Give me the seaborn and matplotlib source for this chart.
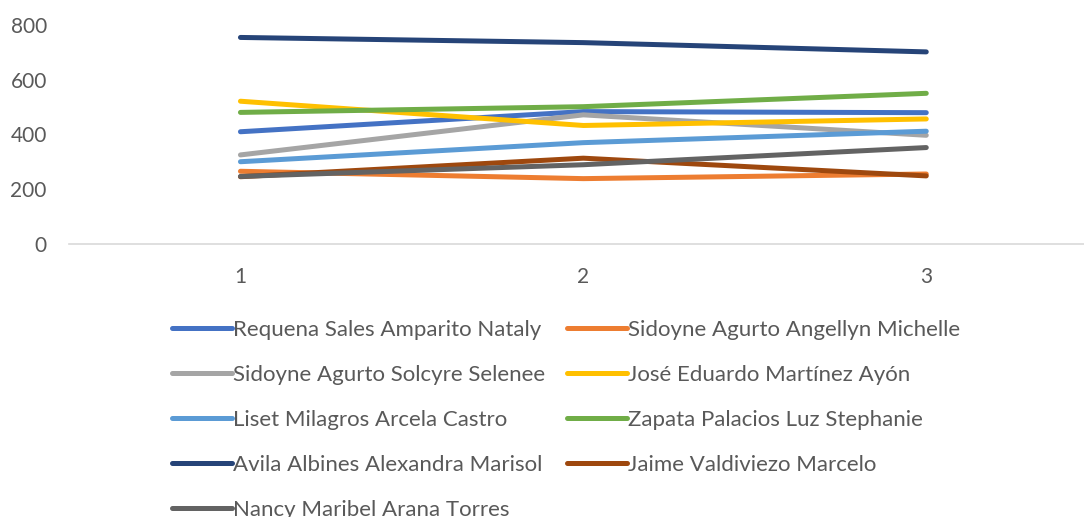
import pandas as pd
import matplotlib
matplotlib.use("Agg")
import matplotlib.pyplot as plt
import seaborn as sns

# Valores
periods = [1, 2, 3]
names = [
    "Requena Sales Amparito Nataly",
    "Sidoyne Agurto Angellyn Michelle",
    "Sidoyne Agurto Solcyre Selenee",
    "José Eduardo Martínez Ayón",
    "Liset Milagros Arcela Castro",
    "Zapata Palacios Luz Stephanie",
    "Avila Albines Alexandra Marisol",
    "Jaime Valdiviezo Marcelo",
    "Nancy Maribel Arana Torres",
]
requena = [410, 484, 480]
angellyn = [265, 238, 255]
solcyre = [325, 472, 397]
jose = [522, 433, 457]
liset = [300, 370, 412]
zapata = [481, 502, 551]
avila = [756, 737, 703]
jaime = [245, 313, 248]
nancy = [246, 289, 352]
series = [requena, angellyn, solcyre, jose, liset, zapata, avila, jaime, nancy]
colors = ["#4472C4", "#ED7D31", "#A5A5A5", "#FFC000", "#5B9BD5",
          "#70AD47", "#264478", "#9E480E", "#636363"]

rows = []
for name, vals in zip(names, series):
    for p, v in zip(periods, vals):
        rows.append({"Periodo": p, "Valor": v, "Nombre": name})
df = pd.DataFrame(rows)

sns.set_theme(style="white")
plt.rcParams["font.family"] = ["Lato", "DejaVu Sans"]
text_color = "#595959"

fig = plt.figure(figsize=(10.84, 5.17), dpi=100)
ax = fig.add_axes([69 / 1084, 1 - 243.5 / 517, 1 - 69 / 1084, (243.5 - 20) / 517])

sns.lineplot(data=df, x="Periodo", y="Valor", hue="Nombre", hue_order=names,
             palette=colors, linewidth=3.6, ax=ax, legend=False,
             solid_capstyle="round")

ax.set_xlim(0.5, 3.46)
ax.set_ylim(0, 820)
ax.set_xticks(periods)
ax.set_yticks([0, 200, 400, 600, 800])
ax.set_xlabel("")
ax.set_ylabel("")
for s in ["top", "right", "left"]:
    ax.spines[s].set_visible(False)
ax.spines["bottom"].set_color("#D9D9D9")
ax.spines["bottom"].set_linewidth(1.2)
ax.tick_params(axis="both", length=0, labelsize=15, colors=text_color)
ax.tick_params(axis="x", pad=17)
ax.tick_params(axis="y", pad=16)

# leyenda en filas (orden de Excel)
handles = ax.get_lines()[:len(names)]
order = [0, 2, 4, 6, 8, 1, 3, 5, 7]
leg = fig.legend([handles[i] for i in order], [names[i] for i in order],
                 ncol=2, loc="upper left",
                 bbox_to_anchor=(172 / 1084, 1 - 320 / 517),
                 frameon=False, fontsize=16, handlelength=2.7,
                 handletextpad=0.05, columnspacing=0.98, labelspacing=1.12,
                 borderpad=0, borderaxespad=0)
for t in leg.get_texts():
    t.set_color(text_color)

fig.savefig("out.png", dpi=100)
